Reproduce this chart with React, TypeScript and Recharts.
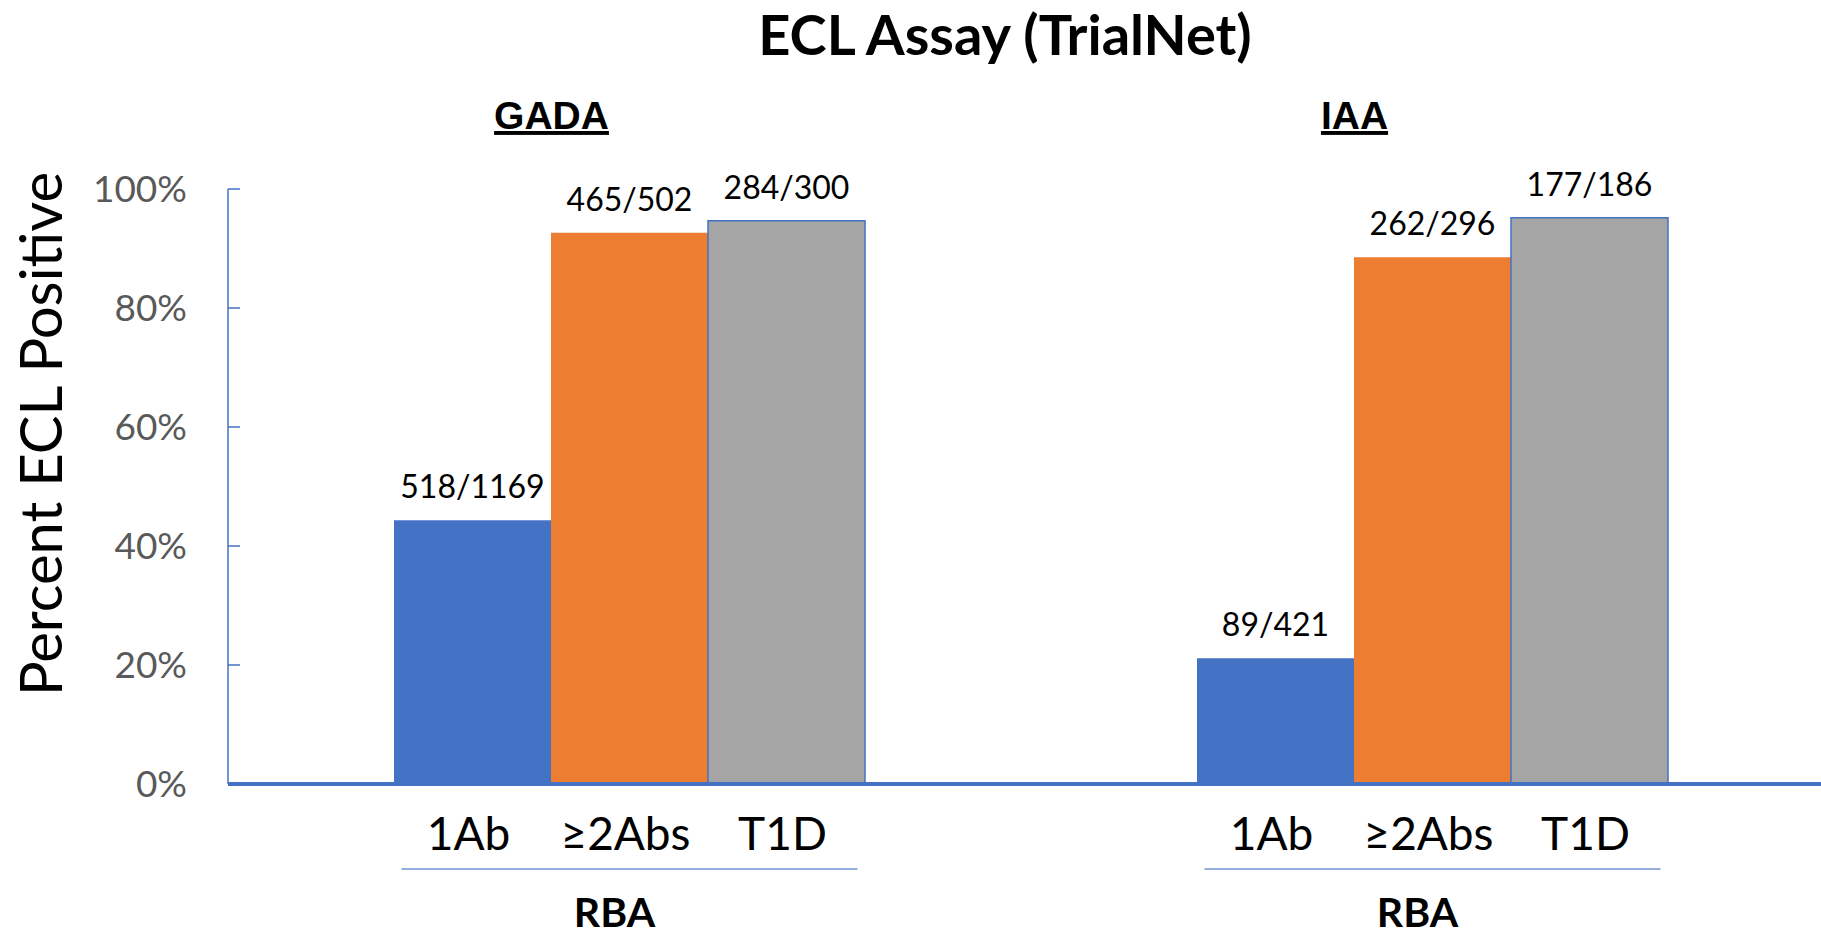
import React from 'react';
import { BarChart, Bar, XAxis, YAxis, LabelList } from 'recharts';

const groups = ['GADA', 'IAA'];
const seriesNames = ['1Ab', '≥2Abs', 'T1D'];
const positives1Ab = [518, 89];
const totals1Ab = [1169, 421];
const positives2Abs = [465, 262];
const totals2Abs = [502, 296];
const positivesT1D = [284, 177];
const totalsT1D = [300, 186];
const yTicks = [0, 0.2, 0.4, 0.6, 0.8, 1];
const groupFooter = 'RBA';

const BLUE = '#4472C4';
const ORANGE = '#ED7D31';
const GRAY = '#A5A5A5';
const CALIBRI = 'Lato, "Open Sans", sans-serif';
const ARIAL = '"Liberation Sans", Arial, sans-serif';

const data = groups.map((group, i) => ({
  group,
  oneAb: positives1Ab[i] / totals1Ab[i],
  oneAbLabel: `${positives1Ab[i]}/${totals1Ab[i]}`,
  twoAbs: positives2Abs[i] / totals2Abs[i],
  twoAbsLabel: `${positives2Abs[i]}/${totals2Abs[i]}`,
  t1d: positivesT1D[i] / totalsT1D[i],
  t1dLabel: `${positivesT1D[i]}/${totalsT1D[i]}`,
}));

// group title above the bars, placed left of the group centre like the original
function GroupHeader(props: any) {
  const { x, payload } = props;
  return (
    <text
      x={x - 78}
      y={129}
      textAnchor="middle"
      fontFamily={ARIAL}
      fontWeight={700}
      fontSize={39}
      fill="#000"
      style={{ textDecoration: 'underline' }}
    >
      {payload.value}
    </text>
  );
}

// bracket line + "RBA" under each group
function GroupFooter(props: any) {
  const { x } = props;
  return (
    <g>
      <line x1={x - 228} x2={x + 228} y1={869} y2={869} stroke="#6F93D4" strokeWidth={1.5} />
      <text
        x={x - 15}
        y={927}
        textAnchor="middle"
        fontFamily={CALIBRI}
        fontWeight={700}
        fontSize={41}
        fill="#000"
      >
        {groupFooter}
      </text>
    </g>
  );
}

const seriesNameLabel = (name: string) => (props: any) => {
  const vb = props.viewBox ?? props;
  const cx = Number(vb.x) + Number(vb.width) / 2;
  const bottom = Number(vb.y) + Number(vb.height);
  return (
    <text
      key={`${name}-${props.index}`}
      x={cx - 4}
      y={bottom + 66}
      textAnchor="middle"
      fontFamily={CALIBRI}
      fontSize={46}
      fill="#000"
    >
      {name}
    </text>
  );
};

const countLabelProps = {
  position: 'top' as const,
  offset: 22,
  fill: '#000',
  fontSize: 32,
  fontFamily: CALIBRI,
};

export default function App() {
  return (
    <div
      style={{
        position: 'absolute',
        left: 0,
        top: 0,
        width: 1821,
        height: 936,
        overflow: 'hidden',
        background: '#fff',
      }}
    >
      <BarChart
        width={1840}
        height={936}
        data={data}
        margin={{ top: 0, right: 6, bottom: 0, left: 0 }}
        barCategoryGap={166}
        barGap={0}
      >
        <XAxis
          xAxisId="top"
          orientation="top"
          dataKey="group"
          height={189}
          axisLine={false}
          tickLine={false}
          tick={<GroupHeader />}
        />
        <XAxis
          dataKey="group"
          height={152}
          axisLine={{ stroke: BLUE, strokeWidth: 4 }}
          tickLine={false}
          tick={<GroupFooter />}
        />
        <YAxis
          width={228}
          domain={[0, 1]}
          ticks={yTicks}
          interval={0}
          tickFormatter={(v: number) => `${Math.round(v * 100)}%`}
          axisLine={{ stroke: BLUE, strokeWidth: 1.5 }}
          tickLine={{ stroke: BLUE, strokeWidth: 1.5 }}
          tickSize={-12}
          tickMargin={53}
          tick={{ fill: '#595959', fontSize: 37, fontFamily: CALIBRI }}
        />
        <Bar dataKey="oneAb" fill={BLUE} isAnimationActive={false}>
          <LabelList dataKey="oneAbLabel" {...countLabelProps} />
          <LabelList dataKey="oneAbLabel" content={seriesNameLabel(seriesNames[0])} />
        </Bar>
        <Bar dataKey="twoAbs" fill={ORANGE} isAnimationActive={false}>
          <LabelList dataKey="twoAbsLabel" {...countLabelProps} />
          <LabelList dataKey="twoAbsLabel" content={seriesNameLabel(seriesNames[1])} />
        </Bar>
        <Bar dataKey="t1d" fill={GRAY} stroke={BLUE} strokeWidth={1.5} isAnimationActive={false}>
          <LabelList dataKey="t1dLabel" {...countLabelProps} />
          <LabelList dataKey="t1dLabel" content={seriesNameLabel(seriesNames[2])} />
        </Bar>
      </BarChart>

      <svg
        width={1821}
        height={936}
        style={{ position: 'absolute', left: 0, top: 0, pointerEvents: 'none' }}
      >
        <text
          x={1005}
          y={55}
          textAnchor="middle"
          fontFamily={CALIBRI}
          fontWeight={700}
          fontSize={56}
          fill="#000"
        >
          ECL Assay (TrialNet)
        </text>
        <text
          x={62}
          y={434}
          transform="rotate(-90 62 434)"
          textAnchor="middle"
          fontFamily={CALIBRI}
          fontSize={58}
          fill="#000"
        >
          Percent ECL Positive
        </text>
      </svg>
    </div>
  );
}
